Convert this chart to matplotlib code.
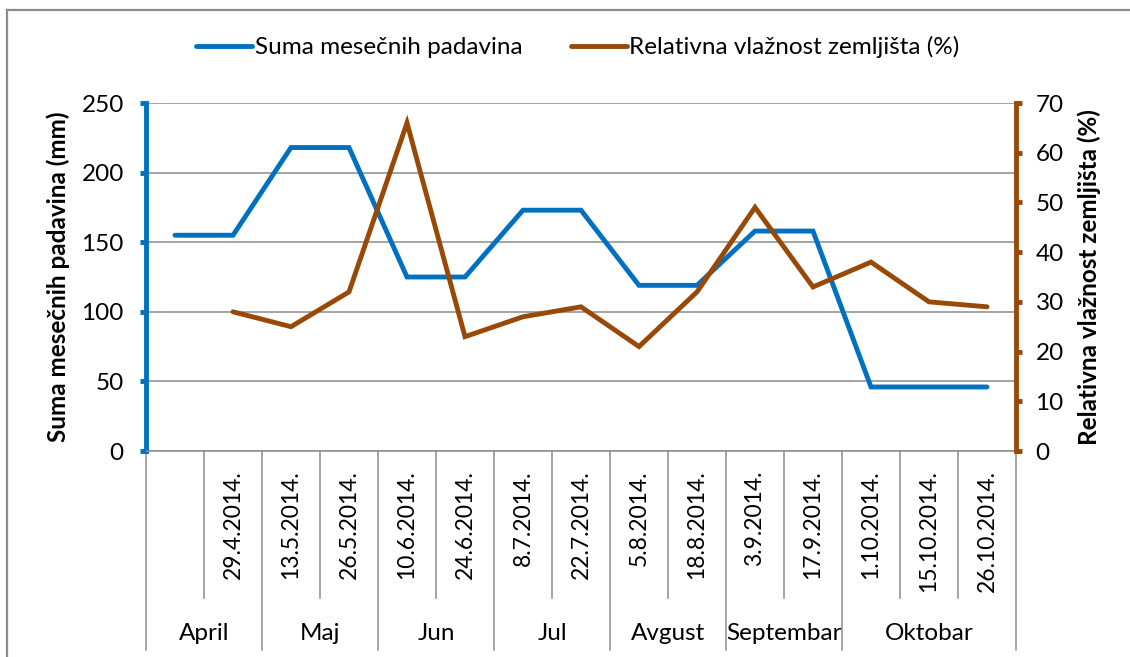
import numpy as np
import matplotlib
matplotlib.use("Agg")
import matplotlib.pyplot as plt
from matplotlib.lines import Line2D

# --- Data ---
dates = ["", "29.4.2014.", "13.5.2014.", "26.5.2014.", "10.6.2014.", "24.6.2014.",
         "8.7.2014.", "22.7.2014.", "5.8.2014.", "18.8.2014.", "3.9.2014.",
         "17.9.2014.", "1.10.2014.", "15.10.2014.", "26.10.2014."]
months = ["April", "April", "Maj", "Maj", "Jun", "Jun", "Jul", "Jul",
          "Avgust", "Avgust", "Septembar", "Septembar", "Oktobar", "Oktobar", "Oktobar"]
padavine = [155, 155, 218, 218, 125, 125, 173, 173, 119, 119, 158, 158, 46, 46, 46]
vlaznost = [np.nan, 28, 25, 32, 66, 23, 27, 29, 21, 32, 49, 33, 38, 30, 29]

BLUE = "#0070C0"
BROWN = "#984807"
GRID = "#8c8c8c"

plt.rcParams['font.family'] = ['Lato', 'DejaVu Sans']

W, H = 1130, 657
fig = plt.figure(figsize=(W / 100, H / 100), dpi=100)
ax = fig.add_axes([146 / W, 1 - 451 / H, 870 / W, 348 / H])
ax2 = ax.twinx()

x = np.arange(len(dates))
ax.plot(x, padavine, color=BLUE, lw=3.5, solid_capstyle='round', solid_joinstyle='miter', zorder=3)
ax2.plot(x, vlaznost, color=BROWN, lw=3.5, solid_capstyle='round', solid_joinstyle='miter', zorder=3)

ax.set_xlim(-0.5, len(dates) - 0.5)
ax.set_ylim(0, 250)
ax2.set_ylim(0, 70)
ax.set_yticks(np.arange(0, 251, 50))
ax2.set_yticks(np.arange(0, 71, 10))
ax.set_xticks([])
ax.yaxis.grid(True, color=GRID, lw=1.1)
ax.set_axisbelow(True)

for a in (ax, ax2):
    a.spines['top'].set_visible(False)
ax.spines['right'].set_visible(False)
ax2.spines['left'].set_visible(False)
ax2.spines['bottom'].set_visible(False)
ax.spines['bottom'].set_color(GRID)
ax.spines['bottom'].set_linewidth(1.1)
ax.spines['left'].set_color(BLUE)
ax.spines['left'].set_linewidth(3.5)
ax2.spines['right'].set_color(BROWN)
ax2.spines['right'].set_linewidth(3.5)
ax.tick_params(axis='y', direction='out', length=4, width=3.5, color=BLUE,
               labelsize=17.5, pad=12)
ax2.tick_params(axis='y', direction='out', length=4, width=3.5, color=BROWN,
                labelsize=17.5, pad=10)

ax.set_ylabel("Suma mesečnih padavina (mm)", fontsize=17.5, fontweight='bold', labelpad=8)
ax2.set_ylabel("Relativna vlažnost zemljišta (%)", fontsize=17.5, fontweight='bold', labelpad=10)

# --- Multi-level category axis ---
tr = ax.get_xaxis_transform()
date_bottom = -147 / 348
month_bottom = -199 / 348
for i, d in enumerate(dates):
    ax.text(i, -19 / 348, d, transform=tr, rotation=90, ha='center', va='top',
            fontsize=16.5, clip_on=False)

# group boundaries
bounds = [0]
for i in range(1, len(months)):
    if months[i] != months[i - 1]:
        bounds.append(i)
bounds.append(len(months))

for k in range(len(months) + 1):
    xe = k - 0.5
    bottom = month_bottom if k in bounds else date_bottom
    ax.add_line(Line2D([xe, xe], [0, bottom], transform=tr, color=GRID, lw=1.1, clip_on=False))

for s, e in zip(bounds[:-1], bounds[1:]):
    ax.text((s + e - 1) / 2, -182 / 348, months[s], transform=tr, ha='center', va='center',
            fontsize=17.5, clip_on=False)

# --- Legend ---
handles = [Line2D([], [], color=BLUE, lw=3.5, solid_capstyle='round'),
           Line2D([], [], color=BROWN, lw=3.5, solid_capstyle='round')]
fig.legend(handles, ["Suma mesečnih padavina", "Relativna vlažnost zemljišta (%)"],
           loc='center', bbox_to_anchor=(578 / W, 1 - 47 / H), ncol=2, frameon=False,
           fontsize=17.5, handlelength=2.3, handletextpad=0.1, columnspacing=2.0)

# outer chart frame
fig.add_artist(Line2D([7 / W, 7 / W], [0, 1 - 10 / H], transform=fig.transFigure, color="#8c8c8c", lw=1.6))
fig.add_artist(Line2D([7 / W, 1], [1 - 10 / H, 1 - 10 / H], transform=fig.transFigure, color="#8c8c8c", lw=1.6))

fig.savefig("out.png", dpi=100)
